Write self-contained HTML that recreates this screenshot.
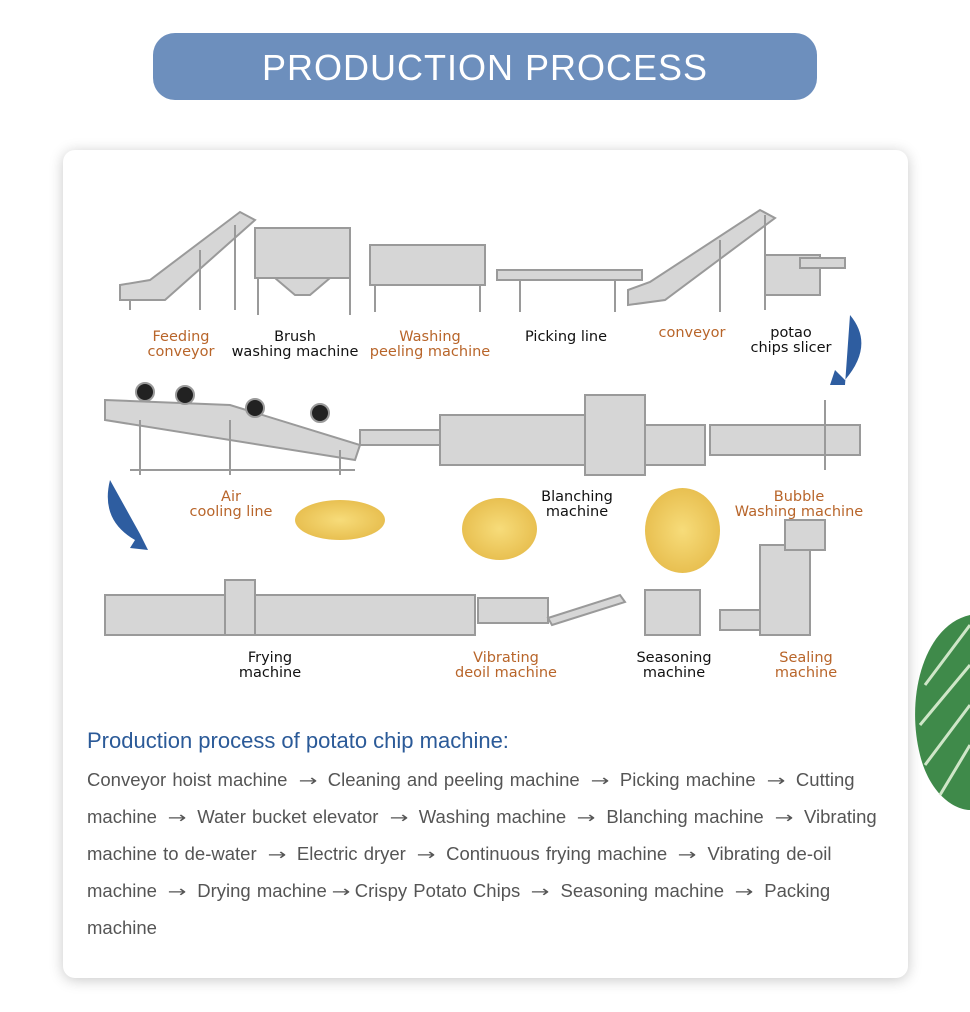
<!DOCTYPE html>
<html><head><meta charset="utf-8"><style>
body{margin:0;width:970px;height:1012px;background:#fff;position:relative;overflow:hidden;font-family:"Liberation Sans",sans-serif}
.hdr{position:absolute;left:153px;top:33px;width:664px;height:67px;border-radius:22px;background:#6d8fbd;color:#fff;font-size:36px;text-align:center;line-height:69px;letter-spacing:1px}
.card{position:absolute;left:63px;top:150px;width:845px;height:828px;background:#fff;border-radius:12px;box-shadow:0 2px 14px rgba(0,0,0,.22)}
.l{position:absolute;font-family:"DejaVu Sans",sans-serif;font-size:14.5px;line-height:15px;text-align:center;white-space:nowrap;transform:translateX(-50%)}
.o{color:#b8652a}.k{color:#111}
.chip{position:absolute;border-radius:50%;background:radial-gradient(#f7dc7a,#e2b440)}
h2{position:absolute;left:87px;top:728px;margin:0;font-weight:normal;font-size:22px;color:#2b5a98}
.t{position:absolute;left:87px;top:761px;width:840px;font-size:18.5px;line-height:37px;color:#555;white-space:nowrap;word-spacing:1px}
.a{display:inline-block;width:28px;line-height:1;text-align:center;font-family:"DejaVu Sans",sans-serif;font-size:16px;transform:scaleX(1.4)}
</style></head><body>
<div class="hdr">PRODUCTION PROCESS</div>
<div class="card"></div>
<svg style="position:absolute;left:0;top:0" width="970" height="700">
<g stroke="#9a9a9a" fill="#d6d6d6" stroke-width="2">
<polygon points="120,285 150,280 240,212 255,220 165,300 120,300"/>
<line x1="200" y1="250" x2="200" y2="310"/><line x1="235" y1="225" x2="235" y2="310"/><line x1="130" y1="300" x2="130" y2="310"/>
<rect x="255" y="228" width="95" height="50"/><polygon points="275,278 330,278 310,295 295,295"/>
<line x1="258" y1="278" x2="258" y2="315"/><line x1="350" y1="278" x2="350" y2="315"/>
<rect x="370" y="245" width="115" height="40"/><line x1="375" y1="285" x2="375" y2="312"/><line x1="480" y1="285" x2="480" y2="312"/>
<rect x="497" y="270" width="145" height="10"/><line x1="520" y1="280" x2="520" y2="312"/><line x1="615" y1="280" x2="615" y2="312"/>
<polygon points="628,290 650,282 760,210 775,218 665,300 628,305"/><line x1="720" y1="240" x2="720" y2="312"/><line x1="765" y1="215" x2="765" y2="310"/>
<rect x="765" y="255" width="55" height="40"/><rect x="800" y="258" width="45" height="10"/>
<polygon points="105,400 230,405 360,445 355,460 105,420"/>
<line x1="140" y1="420" x2="140" y2="475"/><line x1="230" y1="420" x2="230" y2="475"/><line x1="340" y1="450" x2="340" y2="475"/>
<line x1="130" y1="470" x2="355" y2="470"/>
<circle cx="145" cy="392" r="9" fill="#222"/><circle cx="185" cy="395" r="9" fill="#222"/><circle cx="255" cy="408" r="9" fill="#222"/><circle cx="320" cy="413" r="9" fill="#222"/>
<rect x="360" y="430" width="80" height="15"/><rect x="440" y="415" width="145" height="50"/>
<rect x="585" y="395" width="60" height="80"/><rect x="645" y="425" width="60" height="40"/>
<rect x="710" y="425" width="150" height="30"/><line x1="825" y1="400" x2="825" y2="470"/>
<rect x="105" y="595" width="370" height="40"/><rect x="225" y="580" width="30" height="55"/>
<rect x="478" y="598" width="70" height="25"/><polygon points="548,618 620,595 625,602 552,625"/>
<rect x="645" y="590" width="55" height="45"/>
<rect x="760" y="545" width="50" height="90"/><rect x="785" y="520" width="40" height="30"/><rect x="720" y="610" width="40" height="20"/>
</g>
<g fill="#2e5da0"><path d="M850,315 q25,30 -5,65 l-10,-10 l-5,15 l15,0 z"/><path d="M110,480 q-10,40 25,60 l-5,8 l18,2 l-8,-16 z"/></g>
</svg>
<div class="chip" style="left:295px;top:500px;width:90px;height:40px"></div>
<div class="chip" style="left:462px;top:498px;width:75px;height:62px"></div>
<div class="chip" style="left:645px;top:488px;width:75px;height:85px"></div>
<div class="l o" style="left:181px;top:330px">Feeding<br>conveyor</div>
<div class="l k" style="left:295px;top:330px">Brush<br>washing machine</div>
<div class="l o" style="left:430px;top:330px">Washing<br>peeling machine</div>
<div class="l k" style="left:566px;top:330px">Picking line</div>
<div class="l o" style="left:692px;top:326px">conveyor</div>
<div class="l k" style="left:791px;top:326px">potao<br>chips slicer</div>
<div class="l o" style="left:231px;top:490px">Air<br>cooling line</div>
<div class="l k" style="left:577px;top:490px">Blanching<br>machine</div>
<div class="l o" style="left:799px;top:490px">Bubble<br>Washing machine</div>
<div class="l k" style="left:270px;top:651px">Frying<br>machine</div>
<div class="l o" style="left:506px;top:651px">Vibrating<br>deoil machine</div>
<div class="l k" style="left:674px;top:651px">Seasoning<br>machine</div>
<div class="l o" style="left:806px;top:651px">Sealing<br>machine</div>
<h2>Production process of potato chip machine:</h2>
<div class="t">Conveyor hoist machine <span class="a">→</span> Cleaning and peeling machine <span class="a">→</span> Picking machine <span class="a">→</span> Cutting<br>machine <span class="a">→</span> Water bucket elevator <span class="a">→</span> Washing machine <span class="a">→</span> Blanching machine <span class="a">→</span> Vibrating<br>machine to de-water <span class="a">→</span> Electric dryer <span class="a">→</span> Continuous frying machine <span class="a">→</span> Vibrating de-oil<br>machine <span class="a">→</span> Drying machine<span class="a">→</span>Crispy Potato Chips <span class="a">→</span> Seasoning machine <span class="a">→</span> Packing<br>machine</div>
<svg style="position:absolute;left:905px;top:605px" width="65" height="210"><path d="M65,10 C20,20 0,90 15,150 C25,190 50,205 65,205 Z" fill="#3f8a4a"/><path d="M65,20 L20,80 M65,60 L15,120 M65,100 L20,160 M65,140 L35,190" stroke="#cfe6c8" stroke-width="3"/></svg>
</body></html>
